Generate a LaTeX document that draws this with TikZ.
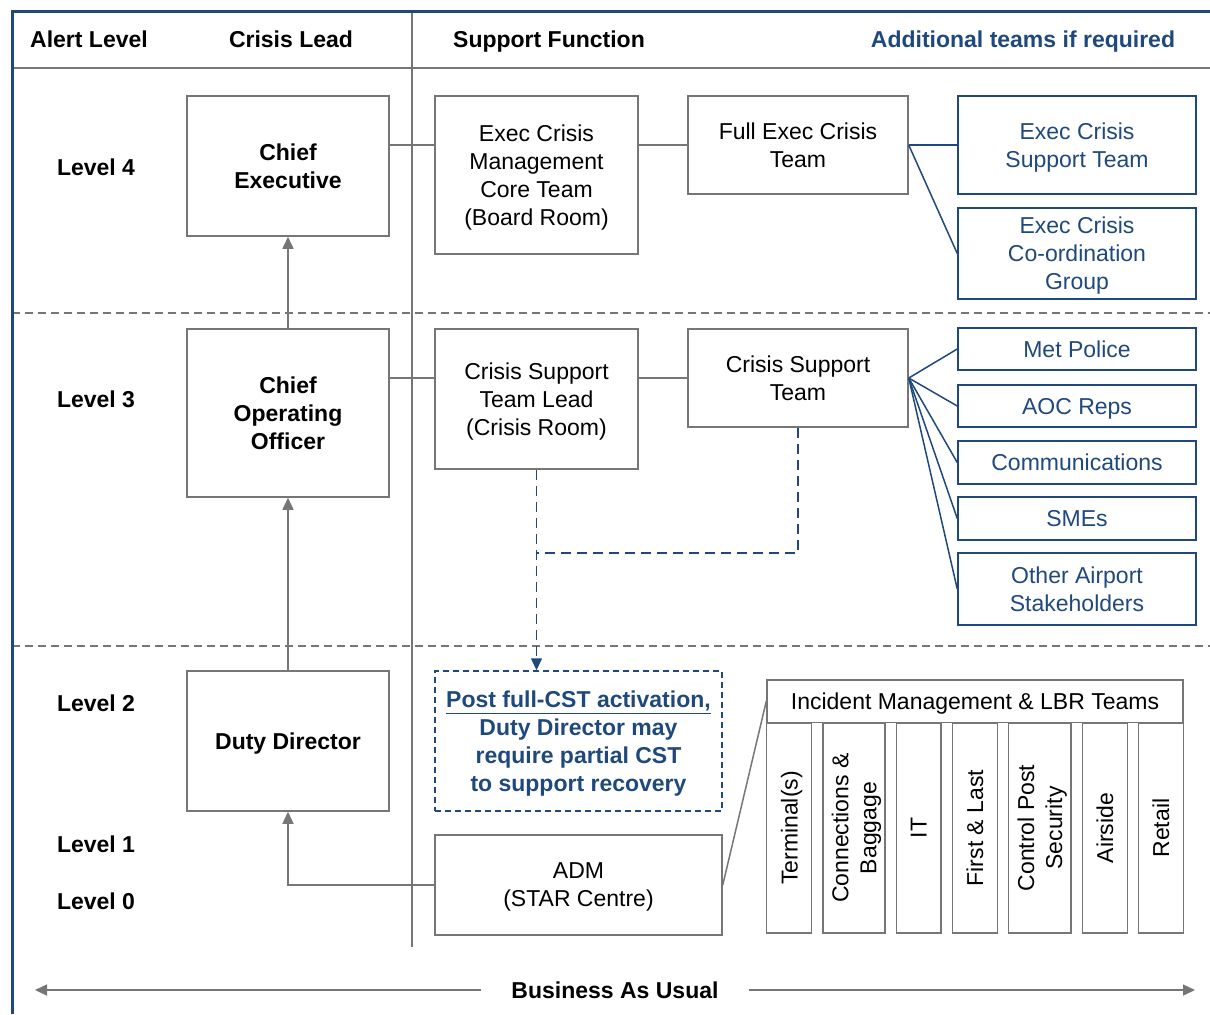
\documentclass[tikz,border=0pt]{standalone}
\usepackage{fontspec}
\setmainfont{Liberation Sans}
\usepackage{xcolor}
\usetikzlibrary{arrows.meta}
\definecolor{ddblue}{HTML}{1F497D}
\definecolor{lgray}{HTML}{767676}
\tikzset{txt/.style={font=\fontsize{11.5}{14}\selectfont,align=center,inner sep=0pt,text depth=0pt},
  btxt/.style={txt,font=\fontsize{11.5}{14}\selectfont\bfseries},
  leadbox/.style={btxt,draw=lgray,line width=0.75pt,fill=white,minimum width=101pt},
  supbox/.style={txt,draw=lgray,line width=0.75pt,fill=white},
  teambox/.style={txt,draw=ddblue,text=ddblue,line width=0.75pt,fill=white,minimum width=119pt},
  lbrbox/.style={supbox,rotate=90,minimum width=105pt},
  gline/.style={draw=lgray,line width=0.75pt},
  bline/.style={draw=ddblue,line width=0.75pt},
  garrow/.style={gline,-{Triangle[length=6pt,width=5.5pt]}},
  bdash/.style={bline,dash pattern=on 5pt off 3pt}}

\begin{document}
\begin{tikzpicture}[x=0.5pt,y=-0.5pt]
  \useasboundingbox (0,0) rectangle (1210,1014);

  \draw[gline] (12,68) -- (1210,68);
  \draw[gline] (412,11) -- (412,947);
  \draw[gline,dash pattern=on 4pt off 2.5pt] (12,313) -- (1210,313);
  \draw[gline,dash pattern=on 4pt off 2.5pt] (12,646) -- (1210,646);
  \draw[ddblue,line width=1.5pt] (12,1014) -- (12,11) -- (1210,11);

  \node[btxt] (halert) at (89,39) {Alert Level};
  \node[btxt] (hlead)  at (291,39) {Crisis Lead};
  \node[btxt] (hsup)   at (549,39) {Support Function};
  \node[btxt,text=ddblue] (hadd) at (1023,39) {Additional teams if required};

  \node[btxt] (l4) at (96,167) {Level 4};
  \node[btxt] (l3) at (96,399) {Level 3};
  \node[btxt] (l2) at (96,703) {Level 2};
  \node[btxt] (l1) at (96,844) {Level 1};
  \node[btxt] (l0) at (96,901) {Level 0};

  \node[leadbox,minimum height=70pt] (ce)  at (288,166) {Chief\\Executive};
  \node[leadbox,minimum height=84pt] (coo) at (288,413) {Chief\\Operating\\Officer};
  \node[leadbox,minimum height=70pt] (dd)  at (288,741) {Duty Director};

  \node[supbox,minimum width=101.5pt,minimum height=79pt] (ecm)  at (536.5,175) {Exec Crisis\\Management\\Core Team\\(Board Room)};
  \node[supbox,minimum width=101.5pt,minimum height=70pt] (cstl) at (536.5,399) {Crisis Support\\Team Lead\\(Crisis Room)};
  \node[supbox,minimum width=110pt,minimum height=49pt] (fect) at (798,145) {Full Exec Crisis\\Team};
  \node[supbox,minimum width=110pt,minimum height=49pt] (cst)  at (798,378) {Crisis Support\\Team};
  \node[supbox,minimum width=143.5pt,minimum height=50pt] (adm) at (578.5,885) {ADM\\(STAR Centre)};
  \node[btxt,text=ddblue,draw=ddblue,line width=0.75pt,dash pattern=on 3pt off 2pt,
    minimum width=143.5pt,minimum height=70pt] (post) at (578.5,741)
    {\underline{Post full-CST activation,}\\Duty Director may\\require partial CST\\to support recovery};

  \node[teambox,minimum height=49pt]   (ecst)  at (1077,145) {Exec Crisis\\Support Team};
  \node[teambox,minimum height=45.5pt] (eccg)  at (1077,253.5) {Exec Crisis\\Co-ordination\\Group};
  \node[teambox,minimum height=21pt]   (met)   at (1077,349) {Met Police};
  \node[teambox,minimum height=21pt]   (aoc)   at (1077,406) {AOC Reps};
  \node[teambox,minimum height=21.5pt] (comm)  at (1077,462.5) {Communications};
  \node[teambox,minimum height=21.5pt] (smes)  at (1077,518.5) {SMEs};
  \node[teambox,minimum height=36pt]   (other) at (1077,589) {Other Airport\\Stakeholders};

  \node[supbox,minimum width=208pt,minimum height=21.3pt] (imt) at (975,701.3) {Incident Management \& LBR Teams};
  \node[lbrbox,minimum height=22.5pt] (term) at (789.2,828) {Terminal(s)};
  \node[lbrbox,minimum height=31pt]   (conn) at (854,828) {Connections \&\\Baggage};
  \node[lbrbox,minimum height=22.2pt] (it)   at (918.8,828) {IT};
  \node[lbrbox,minimum height=22.5pt] (fl)   at (974.8,828) {First \& Last};
  \node[lbrbox,minimum height=31.2pt] (cps)  at (1039.8,828) {Control Post\\Security};
  \node[lbrbox,minimum height=22.5pt] (air)  at (1104.8,828) {Airside};
  \node[lbrbox,minimum height=22.5pt] (ret)  at (1160.8,828) {Retail};

  \draw[gline] (ce.east |- fect) -- (ecm.west |- fect);
  \draw[gline] (ecm.east |- fect) -- (fect.west);
  \draw[gline] (coo.east |- cst) -- (cstl.west |- cst);
  \draw[gline] (cstl.east |- cst) -- (cst.west);
  \draw[garrow] (coo.north) -- (ce.south);
  \draw[garrow] (dd.north) -- (coo.south);
  \draw[garrow] (adm.west) -| (dd.south);
  \draw[gline] (adm.east) -- (imt.west);

  \draw[bline] (fect.east) -- (ecst.west);
  \draw[bline] (fect.east) -- (eccg.west);
  \foreach \t in {met,aoc,comm,smes,other}
    \draw[bline] (cst.east) -- (\t.west);

  \coordinate (join) at (536.5,553);
  \draw[bdash] (cst.south) |- (join);
  \draw[bdash,-{Triangle[length=6pt,width=5.5pt]}] (cstl.south) -- (cstl.south |- post.north);

  \node[btxt,inner xsep=15pt] (bau) at (615,990) {Business As Usual};
  \coordinate (bauL) at (35,990);
  \coordinate (bauR) at (1195,990);
  \draw[garrow] (bau.west) -- (bauL);
  \draw[garrow] (bau.east) -- (bauR);
\end{tikzpicture}
\end{document}
